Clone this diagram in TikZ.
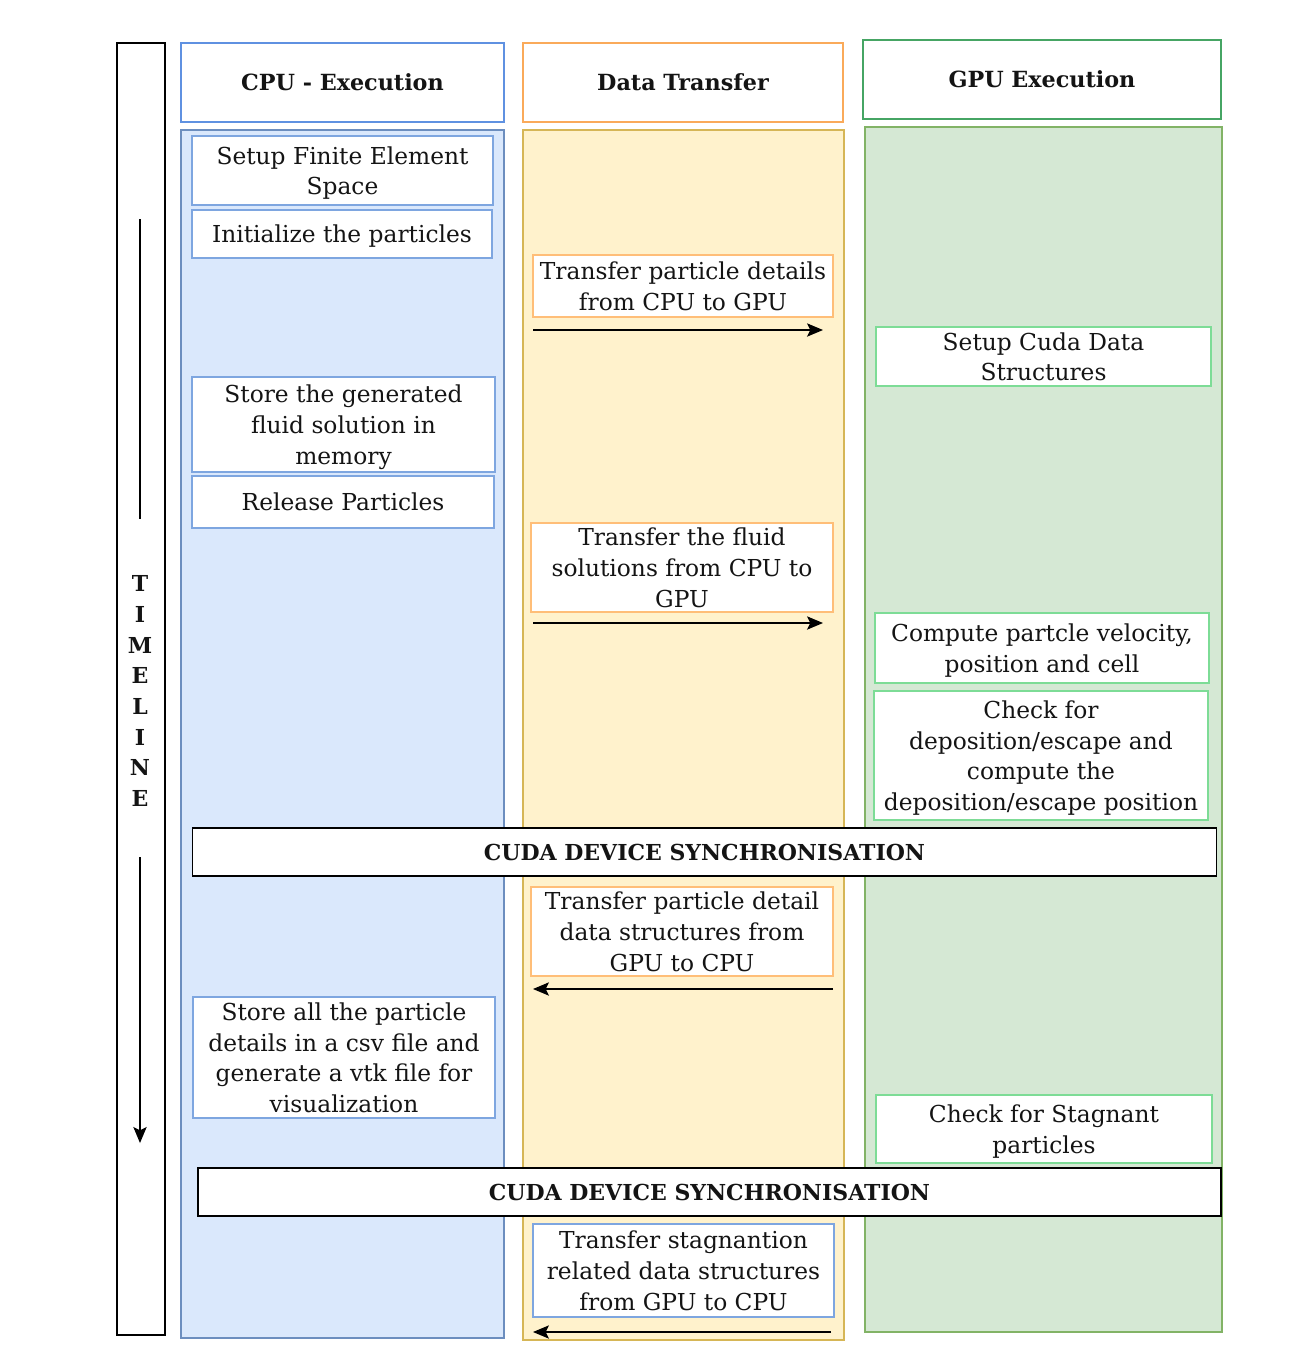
\documentclass[tikz,border=0pt]{standalone}
\usepackage{xcolor}
\usepackage{fontspec}
\usepackage{tikz}
\usetikzlibrary{arrows.meta}
\setmainfont{DejaVu Serif}
\definecolor{cpuline}{RGB}{95,145,225}
\definecolor{cpulane}{RGB}{218,232,252}
\definecolor{cpuedge}{RGB}{108,142,191}
\definecolor{cpubox}{RGB}{126,166,224}
\definecolor{dataline}{RGB}{250,170,90}
\definecolor{datalane}{RGB}{255,242,204}
\definecolor{dataedge}{RGB}{214,182,86}
\definecolor{databox}{RGB}{255,190,120}
\definecolor{gpuline}{RGB}{70,165,100}
\definecolor{gpulane}{RGB}{213,232,212}
\definecolor{gpuedge}{RGB}{130,179,102}
\definecolor{gpubox}{RGB}{125,220,150}
\definecolor{inktext}{RGB}{20,20,20}

\begin{document}
\begin{tikzpicture}[x=0.75pt, y=-0.75pt,
  every node/.style={text=inktext, font=\fontsize{17.5}{23}\selectfont},
  head/.style={draw, rectangle, fill=white, line width=0.9pt, align=center, minimum height=59.25pt, font=\fontsize{16.7}{23}\selectfont\bfseries},
  lane/.style={draw, rectangle, line width=0.9pt},
  task/.style={draw, rectangle, fill=white, line width=0.9pt, align=center, inner sep=0pt, text depth=-2pt},
  sync/.style={draw=black, rectangle, fill=white, line width=1pt, minimum width=768pt, minimum height=36pt, font=\fontsize{16.5}{23}\selectfont\bfseries},
  flow/.style={-{Stealth[length=12pt,width=10pt,inset=2.5pt]}, line width=0.9pt}]
\useasboundingbox (0,0) rectangle (1300,1372);
% timeline
\node[draw, rectangle, line width=1pt, minimum width=36pt, minimum height=969pt] (tlbox) at (141,689) {};
\node[align=center, font=\fontsize{16.5}{23}\selectfont\bfseries] (tl) at (140,691) {T\\I\\M\\E\\L\\I\\N\\E};
\coordinate (tltop) at (140,219);
\coordinate (tlmid) at (140,519);
\coordinate (tlgo) at (140,857);
\coordinate (tlend) at (140,1143);
\draw[line width=0.9pt] (tltop) -- (tlmid);
\draw[flow] (tlgo) -- (tlend);
% lanes
\node[lane, draw=cpuedge, fill=cpulane, minimum width=242.25pt, minimum height=906pt] (cpulane) at (342.5,734) {};
\node[lane, draw=dataedge, fill=datalane, minimum width=240.75pt, minimum height=907.5pt] (datalane) at (683.5,735) {};
\node[lane, draw=gpuedge, fill=gpulane, minimum width=267.75pt, minimum height=903.75pt] (gpulane) at (1043.5,729.5) {};
% headers
\node[head, draw=cpuline, minimum width=242.25pt] (cpuhead) at (342.5,82.5) {CPU - Execution};
\node[head, draw=dataline, minimum width=240pt] (datahead) at (683,82.5) {Data Transfer};
\node[head, draw=gpuline, minimum width=268.5pt] (gpuhead) at (1042,79.5) {GPU Execution};
% cpu side
\node[task, draw=cpubox, minimum width=225.75pt, minimum height=51.75pt] (fem) at (342.5,170.5) {Setup Finite Element\\Space};
\node[task, draw=cpubox, minimum width=225pt, minimum height=36pt] (init) at (342,234) {Initialize the particles};
\node[task, draw=cpubox, minimum width=227.25pt, minimum height=71.25pt] (store) at (343.5,424.5) {Store the generated\\fluid solution in\\memory};
\node[task, draw=cpubox, minimum width=226.5pt, minimum height=39pt] (release) at (343,502) {Release Particles};
\node[task, draw=cpubox, minimum width=226.5pt, minimum height=90.75pt] (csv) at (344,1057.5) {Store all the particle\\details in a csv file and\\generate a vtk file for\\visualization};
% data transfer
\node[task, draw=databox, minimum width=225pt, minimum height=46.5pt] (tpart) at (683,286) {Transfer particle details\\from CPU to GPU};
\node[task, draw=databox, minimum width=226.5pt, minimum height=66.75pt] (tfluid) at (682,567.5) {Transfer the fluid\\solutions from CPU to\\GPU};
\node[task, draw=databox, minimum width=226.5pt, minimum height=66.75pt] (tback) at (682,931.5) {Transfer particle detail\\data structures from\\GPU to CPU};
\node[task, draw=cpubox, minimum width=225.75pt, minimum height=69.75pt] (tstag) at (683.5,1270.5) {Transfer stagnantion\\related data structures\\from GPU to CPU};
\coordinate (a1s) at (533,330);
\coordinate (a1e) at (823,330);
\coordinate (a2s) at (533,623);
\coordinate (a2e) at (823,623);
\coordinate (a3s) at (833,989);
\coordinate (a3e) at (533,989);
\coordinate (a4s) at (831,1332);
\coordinate (a4e) at (533,1332);
\draw[flow] (a1s) -- (a1e);
\draw[flow] (a2s) -- (a2e);
\draw[flow] (a3s) -- (a3e);
\draw[flow] (a4s) -- (a4e);
% gpu side
\node[task, draw=gpubox, minimum width=251.25pt, minimum height=44.25pt] (cudads) at (1043.5,356.5) {Setup Cuda Data\\Structures};
\node[task, draw=gpubox, minimum width=250.5pt, minimum height=52.5pt] (velo) at (1042,648) {Compute partcle velocity,\\position and cell};
\node[task, draw=gpubox, minimum width=250.5pt, minimum height=96.75pt] (depo) at (1041,755.5) {Check for\\deposition/escape and\\compute the\\deposition/escape position};
\node[task, draw=gpubox, minimum width=252pt, minimum height=51pt] (stag) at (1044,1129) {Check for Stagnant\\particles};
% synchronisation
\node[sync] (sync1) at (704.5,852) {CUDA DEVICE SYNCHRONISATION};
\node[sync, minimum width=767.25pt] (sync2) at (709.5,1192) {CUDA DEVICE SYNCHRONISATION};
\end{tikzpicture}
\end{document}
